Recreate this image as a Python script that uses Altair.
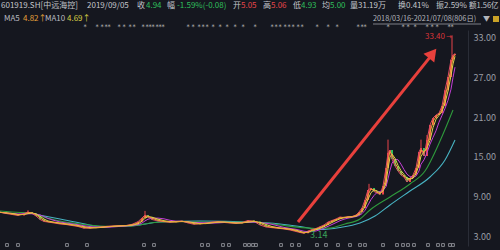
import altair as alt
import pandas as pd

# ---------------- data ----------------
idx = [0, 6, 12, 18, 24, 28, 32, 36, 40, 44,
       48, 54, 60, 66, 72, 78, 84, 90, 96, 102,
       108, 114, 120, 126, 132, 138, 142, 145, 148, 152,
       158, 164, 170, 176, 182, 188, 194, 200, 206, 212,
       218, 224, 230, 236, 242, 248, 254, 260, 266, 272,
       278, 284, 290, 296, 300, 304, 308, 312, 316, 320,
       324, 328, 332, 336, 340, 344, 348, 352, 356, 359,
       362, 365, 368, 371, 374, 377, 380, 383, 386, 388,
       390, 392, 395, 398, 401, 404, 407, 410, 413, 416,
       419, 421, 424, 427, 430, 433, 436, 439, 442, 445,
       448, 451, 453, 455]
close = [6.59, 6.41, 6.26, 6.11, 6.41, 6.64, 6.41, 6.03, 5.50, 5.20,
         5.12, 4.97, 4.82, 4.74, 4.59, 4.44, 4.17, 4.21, 4.32, 4.39,
         4.48, 4.52, 4.56, 4.59, 4.77, 5.17, 5.73, 6.18, 5.88, 5.50,
         5.27, 5.17, 5.08, 5.20, 5.27, 4.97, 4.77, 4.89, 4.97, 5.12,
         5.17, 5.05, 4.97, 4.92, 5.05, 5.35, 5.20, 4.67, 4.36, 4.26,
         4.17, 4.06, 3.91, 3.68, 3.53, 3.41, 3.76, 3.98, 4.14, 4.41,
         4.67, 5.12, 5.35, 5.58, 5.88, 5.80, 5.92, 5.95, 6.18, 6.64,
         7.24, 8.45, 9.97, 10.27, 9.74, 9.52, 9.29, 10.58, 13.30, 15.58,
         16.03, 14.67, 13.61, 12.85, 12.24, 11.94, 11.18, 11.79, 12.24, 13.30,
         15.73, 16.33, 15.12, 17.55, 19.82, 20.88, 21.33, 21.60, 22.70, 25.10,
         27.10, 29.70, 30.40, 30.60]

wick_idx = [28, 145, 369, 388, 421, 427, 452]
wick_lo = [6.40, 5.90, 9.70, 14.90, 15.50, 16.50, 29.80]
wick_hi = [6.90, 6.80, 10.90, 17.60, 17.60, 18.30, 33.40]

ma60_idx = [0, 20, 30, 40, 60, 80, 100, 120, 140, 150, 160, 180, 200, 220, 240,
            260, 280, 300, 315, 330, 345, 360, 370, 390, 410, 425, 440, 453]
ma60 = [6.79, 6.56, 6.48, 6.03, 5.27, 4.82, 4.52, 4.44, 4.67, 4.97, 5.12, 5.20,
        5.12, 5.05, 5.12, 5.05, 4.67, 4.29, 4.14, 4.21, 4.82, 5.58, 6.94, 8.91,
        10.88, 12.85, 17.39, 22.09]

ma120_idx = [39, 60, 80, 100, 130, 160, 200, 250, 280, 300, 320, 340, 360, 375,
             390, 410, 430, 445, 455]
ma120 = [6.18, 5.58, 4.97, 4.44, 4.52, 5.12, 5.27, 5.12, 4.82, 4.44, 3.98, 4.29,
         4.97, 6.03, 7.70, 9.82, 11.94, 14.52, 17.55]

star_x = [85, 97, 102, 106, 109, 119, 124, 130, 134, 143, 147, 150, 153, 157, 160,
          163, 188, 193, 199, 203, 207, 213, 220, 227, 235, 243, 255, 272, 276, 280,
          285, 289, 293, 298, 302, 317, 328, 337, 358, 362, 365, 388, 403, 408, 415,
          427, 432, 437, 449, 452]
marker_x = [7, 18, 67, 87, 144, 154, 202, 208, 223, 229, 245, 249, 253, 256, 281,
            292, 299, 317, 326, 338, 350, 360, 365, 383, 397, 403, 408, 414, 428,
            438, 443, 450, 453]
y_ticks = [3, 9, 15, 21, 27, 33]

# ---------------- layout / style ----------------
W, H, TOP = 468, 216, 30
LO, HI = 1.485, 34.21
BG = "#15171f"
FONT = "Noto Sans CJK SC"
GREY = "#c4c6cc"
RED = "#e8454a"
GREEN = "#2fbf5c"

xs = alt.Scale(domain=[0, W], range=[0, W], nice=False, zero=False)
ys = alt.Scale(domain=[LO, HI], nice=False, zero=False)

df = pd.DataFrame({"idx": idx, "close": close})
df["open"] = [close[0]] + close[:-1]
df["dir"] = ["up" if c >= o else "down" for c, o in zip(df["close"], df["open"])]

X = alt.X("idx:Q", scale=xs, axis=None)

base = alt.Chart(df)

candles = base.mark_rule(strokeWidth=2).encode(
    x=X,
    y=alt.Y("open:Q", scale=ys,
            axis=alt.Axis(orient="right", values=y_ticks, format=".2f", title=None,
                          grid=False, ticks=False, domain=True, domainColor="#2a2d37",
                          labelColor="#9a9da5", labelFontSize=9, labelFont=FONT,
                          labelPadding=5)),
    y2="close:Q",
    color=alt.Color("dir:N", scale=alt.Scale(domain=["up", "down"], range=[RED, GREEN]),
                    legend=None),
)

close_line = base.mark_line(color="#e04c63", strokeWidth=1).encode(x=X, y=alt.Y("close:Q", scale=ys))

ma5 = base.transform_window(m="mean(close)", frame=[-1, 0], sort=[alt.SortField("idx")]).mark_line(
    color="#f0a23a", strokeWidth=1).encode(x=X, y=alt.Y("m:Q", scale=ys))
ma10 = base.transform_window(m="mean(close)", frame=[-2, 0], sort=[alt.SortField("idx")]).mark_line(
    color="#e3d64c", strokeWidth=1).encode(x=X, y=alt.Y("m:Q", scale=ys))
ma20 = base.transform_window(m="mean(close)", frame=[-4, 0], sort=[alt.SortField("idx")]).mark_line(
    color="#c43fd6", strokeWidth=1).encode(x=X, y=alt.Y("m:Q", scale=ys))

wicks = alt.Chart(pd.DataFrame({"idx": wick_idx, "lo": wick_lo, "hi": wick_hi})).mark_rule(
    color=RED, strokeWidth=1).encode(x=X, y=alt.Y("lo:Q", scale=ys), y2="hi:Q")

ma60_line = alt.Chart(pd.DataFrame({"idx": ma60_idx, "v": ma60})).mark_line(
    color="#2f9a3c", strokeWidth=1.1, interpolate="monotone").encode(x=X, y=alt.Y("v:Q", scale=ys))
ma120_line = alt.Chart(pd.DataFrame({"idx": ma120_idx, "v": ma120})).mark_line(
    color="#47b3c2", strokeWidth=1.1, interpolate="monotone").encode(x=X, y=alt.Y("v:Q", scale=ys))

# red arrow annotation (data coordinates)
arrow_df = pd.DataFrame({"x1": [298], "y1": [5.12], "x2": [430], "y2": [30.10]})
arrow_line = alt.Chart(arrow_df).mark_rule(color="#e8403c", strokeWidth=3).encode(
    x=alt.X("x1:Q", scale=xs, axis=None), y=alt.Y("y1:Q", scale=ys), x2="x2:Q", y2="y2:Q")
arrow_head = alt.Chart(pd.DataFrame({"x": [432.6], "y": [30.65]})).mark_point(
    shape="triangle-up", filled=True, color="#e8403c", opacity=1, size=190, angle=38.6).encode(
    x=alt.X("x:Q", scale=xs, axis=None), y=alt.Y("y:Q", scale=ys))

hi_label = alt.Chart(pd.DataFrame({"x": [425], "y": [33.40], "t": ["33.40"]})).mark_text(
    align="left", baseline="middle", color="#d8353a", fontSize=8, font=FONT, dy=2).encode(
    x=alt.X("x:Q", scale=xs, axis=None), y=alt.Y("y:Q", scale=ys), text="t:N")
hi_arrow = alt.Chart(pd.DataFrame({"x": [446], "y": [33.40], "t": ["→"]})).mark_text(
    align="left", baseline="middle", color="#d8353a", fontSize=7, font="DejaVu Sans", dy=2).encode(
    x=alt.X("x:Q", scale=xs, axis=None), y=alt.Y("y:Q", scale=ys), text="t:N")
lo_label = alt.Chart(pd.DataFrame({"x": [310], "y": [3.14], "t": ["3.14"]})).mark_text(
    align="left", baseline="middle", color="#3aa35a", fontSize=9, font=FONT, dy=0).encode(
    x=alt.X("x:Q", scale=xs, axis=None), y=alt.Y("y:Q", scale=ys), text="t:N")

stars = alt.Chart(pd.DataFrame({"x": star_x})).mark_text(
    text="*", color="#c8c8c8", fontSize=6.5, font="DejaVu Sans", baseline="middle").encode(
    x=alt.X("x:Q", scale=xs, axis=None), y=alt.value(27 - TOP))
markers = alt.Chart(pd.DataFrame({"x": marker_x})).mark_point(
    shape="square", size=8, filled=False, strokeWidth=0.9, color="#8f9198", opacity=1).encode(
    x=alt.X("x:Q", scale=xs, axis=None), y=alt.value(245 - TOP))

one = pd.DataFrame({"a": [0]})


def txt(s, x, y, color, size=8):
    return alt.Chart(one).mark_text(text=s, align="left", baseline="middle", color=color,
                                    fontSize=size, font=FONT).encode(
        x=alt.value(x), y=alt.value(y - TOP))


header = [
    ("601919.SH[中远海控]", 1, GREY), ("2019/09/05", 87, GREY), ("收", 137, GREY),
    ("4.94", 146, GREEN), ("幅", 167, GREY), ("-1.59%(-0.08)", 177, GREEN),
    ("开", 233, GREY), ("5.05", 241, RED), ("高", 263, GREY), ("5.06", 271, RED),
    ("低", 293, GREY), ("4.93", 301, GREEN), ("均", 322, GREY), ("5.00", 330, GREEN),
    ("量31.19万", 350, GREY), ("换0.41%", 398, GREY), ("振2.59%", 436, GREY),
    ("额1.56亿", 469, GREY, 7.5),
]
row1 = [txt(h[0], h[1], 6, h[2], *(h[3:])) for h in header]
row2 = [
    txt("MA5", 4, 19, "#b9bbc1"), txt("4.82↑", 23, 19, "#e5a03a"),
    txt("MA10", 45, 19, "#b9bbc1"), txt("4.69↑", 67, 19, "#d9cf45"),
    txt("2018/03/16-2021/07/08(806日)", 373, 19, "#b3b5bb", 7.3),
    txt("▼", 483, 19, "#b3b5bb", 7),
]
underline = alt.Chart(one).mark_rule(color="#9a9ca3", strokeWidth=0.8).encode(
    x=alt.value(373), x2=alt.value(481), y=alt.value(24 - TOP))
lock = alt.Chart(one).mark_rect(color="#c9a227").encode(
    x=alt.value(493), x2=alt.value(499), y=alt.value(16 - TOP), y2=alt.value(22 - TOP))

chart = alt.layer(
    ma120_line, ma60_line, candles, close_line, wicks, ma20, ma10, ma5,
    arrow_line, arrow_head, hi_label, hi_arrow, lo_label, stars, markers,
    *row1, *row2, underline, lock,
).properties(
    width=W, height=H, background=BG, autosize="none",
    padding={"left": 0, "top": TOP, "right": 500 - W, "bottom": 250 - TOP - H},
).configure_view(stroke=None)

chart.save("out.html", embed_options={"renderer": "svg", "actions": False})
